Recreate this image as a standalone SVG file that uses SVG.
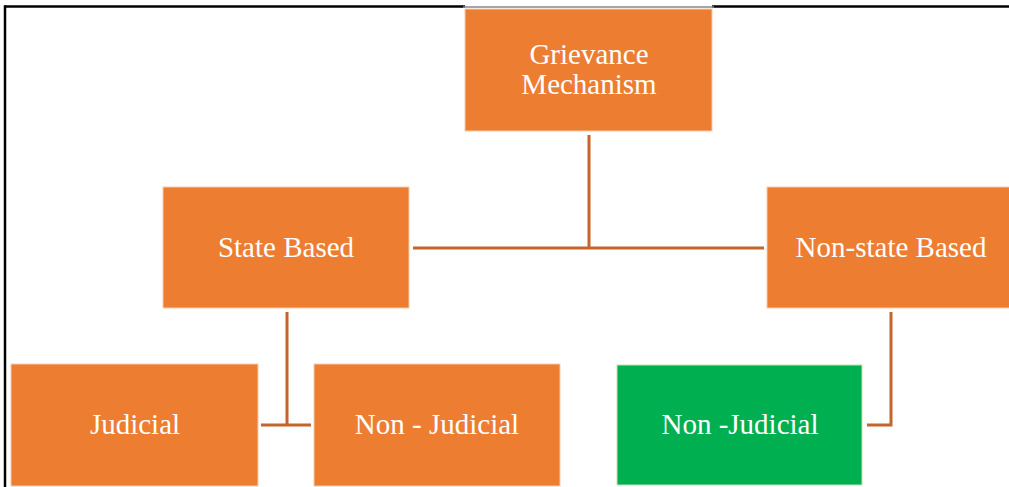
<svg xmlns="http://www.w3.org/2000/svg" width="1009" height="487" viewBox="0 0 1009 487">
<style>
.box{fill:#ED7D31;stroke:#F8CBAD;stroke-width:1}
.green{fill:#00B050;stroke:#C6E0B4;stroke-width:1}
.lbl{font-family:"Liberation Serif","Times New Roman",serif;font-size:29px;fill:#FFFFFF;text-anchor:middle}
.con{fill:none;stroke:#C5652B;stroke-width:3}
</style>
<rect width="1009" height="487" fill="#FFFFFF"/>
<g id="frame">
<line x1="4" y1="6.5" x2="465" y2="6.5" stroke="#000" stroke-width="2.5"/>
<line x1="712" y1="6.5" x2="1009" y2="6.5" stroke="#000" stroke-width="2.5"/>
<line x1="463" y1="7" x2="714" y2="7" stroke="#888" stroke-width="1.5"/>
<line x1="5" y1="5.5" x2="5" y2="487" stroke="#000" stroke-width="2.5"/>
</g>
<g id="connectors">
<path class="con" d="M589 135 V248 M413 248 H764"/>
<path class="con" d="M287 312 V425 M261 425 H311"/>
<path class="con" d="M891 312 V425 H867"/>
</g>
<g id="grievance">
<rect class="box" x="465" y="9" width="247" height="122"/>
<text class="lbl" x="589" y="64">Grievance</text>
<text class="lbl" x="589" y="94">Mechanism</text>
</g>
<g id="state-based">
<rect class="box" x="163" y="187" width="246" height="121"/>
<text class="lbl" x="286" y="257">State Based</text>
</g>
<g id="non-state-based">
<rect class="box" x="767" y="187" width="245" height="121"/>
<text class="lbl" x="891" y="257">Non-state Based</text>
</g>
<g id="judicial">
<rect class="box" x="11" y="364" width="247" height="122"/>
<text class="lbl" x="135" y="434">Judicial</text>
</g>
<g id="state-non-judicial">
<rect class="box" x="314" y="364" width="246" height="122"/>
<text class="lbl" x="437" y="434">Non - Judicial</text>
</g>
<g id="nonstate-non-judicial">
<rect class="green" x="617" y="365" width="245" height="120"/>
<text class="lbl" x="740" y="434">Non -Judicial</text>
</g>
</svg>
